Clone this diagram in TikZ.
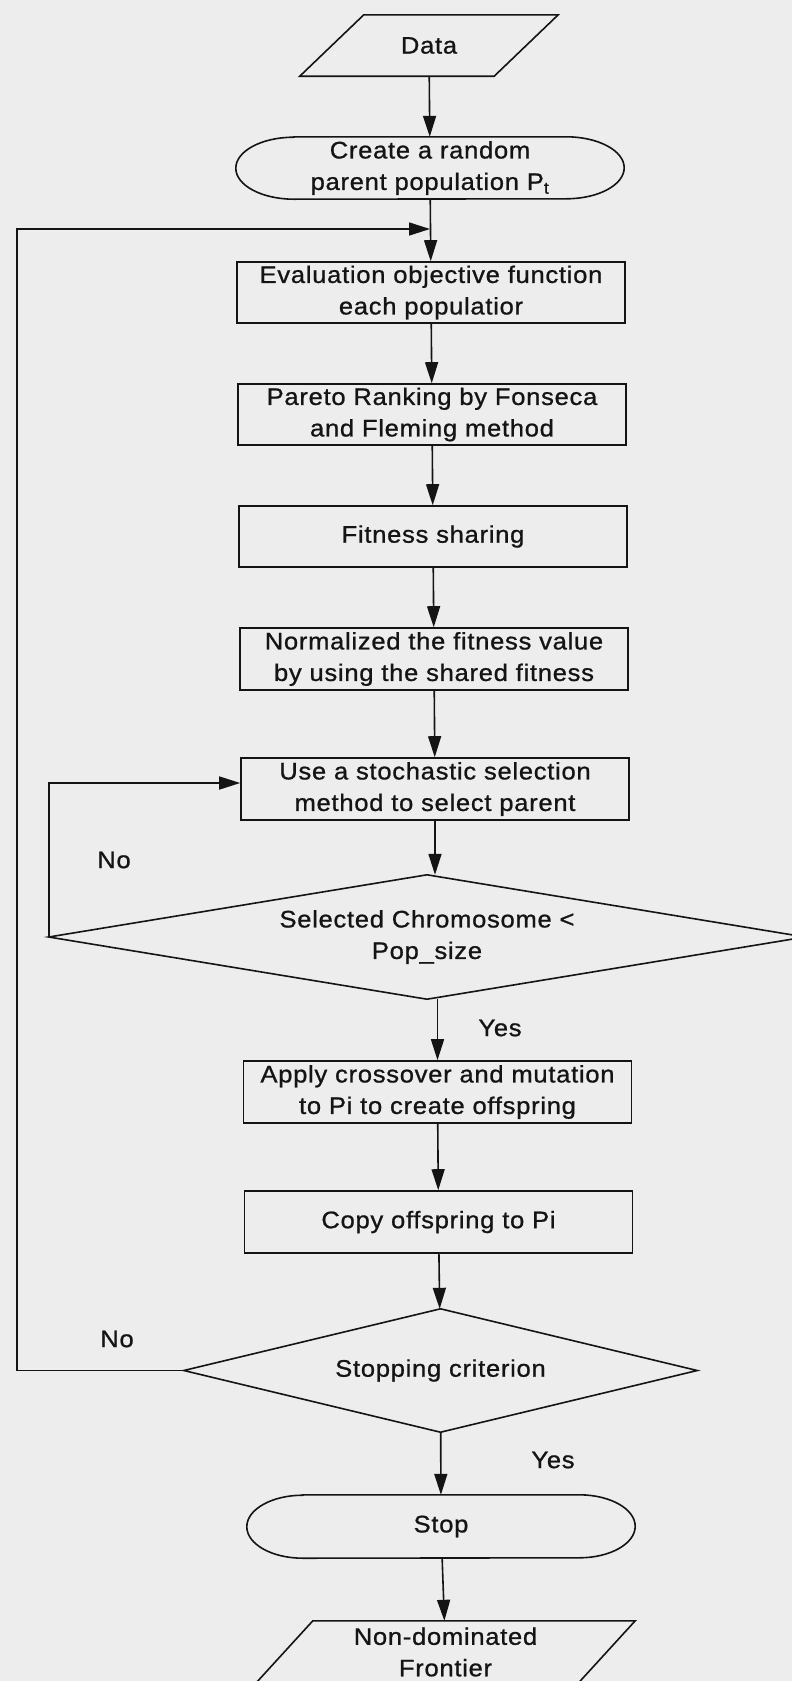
\documentclass[tikz,border=0pt]{standalone}
\usepackage{fontspec}
\setmainfont{Liberation Sans}[FakeStretch=1.07, LetterSpace=3, FakeBold=0.9]
\usetikzlibrary{arrows.meta}

\definecolor{paper}{RGB}{237,237,237}
\definecolor{ink}{RGB}{20,20,20}

\tikzset{
  flow/.style={draw=ink, line width=1.6pt},
  arr/.style={flow, -{Triangle[length=21pt,width=13pt]}},
  txt/.style={font=\fontsize{23.9pt}{31.5pt}\selectfont, text=ink, align=center, inner sep=0pt},
  procbox/.style={txt, flow, minimum width=388pt, minimum height=61pt},
  holder/.style={txt},
  lbl/.style={font=\fontsize{23.9pt}{28pt}\selectfont, text=ink, inner sep=0pt}
}

\begin{document}
\begin{tikzpicture}[x=1pt, y=-1pt]
  \useasboundingbox (0,0) rectangle (792,1681);
  \clip (0,0) rectangle (792,1681);
  \fill[paper] (0,0) rectangle (792,1681);

  % input parallelogram
  \node[holder, minimum width=258pt, minimum height=61pt] (data) at (429,45.5) {Data};
  \draw[flow] ([xshift=64pt]data.north west) -- (data.north east)
              -- ([xshift=-64pt]data.south east) -- (data.south west) -- cycle;

  % start terminal
  \node[holder, minimum width=388pt, minimum height=62pt] (create) at (430,168)
       {Create a random\\parent population P\textsubscript{t}};
  \draw[flow] ([xshift=58pt]create.north west) -- ([xshift=-58pt]create.north east)
              arc[start angle=90, end angle=-90, x radius=58pt, y radius=31pt]
              -- ([xshift=58pt]create.south west)
              arc[start angle=270, end angle=90, x radius=58pt, y radius=31pt] -- cycle;

  % process steps
  \node[procbox] (eval)    at (431,292.5) {Evaluation objective function\\each populatior};
  \node[procbox] (pareto)  at (432,414.5) {Pareto Ranking by Fonseca\\and Fleming method};
  \node[procbox] (fitness) at (433,536.5) {Fitness sharing};
  \node[procbox, minimum height=62pt] (normal) at (434,659) {Normalized the fitness value\\by using the shared fitness};
  \node[procbox, minimum height=62pt] (select) at (435,789) {Use a stochastic selection\\method to select parent};

  % first decision
  \node[holder, minimum width=756pt, minimum height=124pt] (chrom) at (427,937)
       {Selected Chromosome <\\Pop\_size};
  \draw[flow] (chrom.north) -- (chrom.east) -- (chrom.south) -- (chrom.west) -- cycle;

  \node[procbox, minimum height=62pt] (apply) at (437.5,1092) {Apply crossover and mutation\\to Pi to create offspring};
  \node[procbox, minimum height=62pt] (copy)  at (438.5,1222) {Copy offspring to Pi};

  % second decision
  \node[holder, minimum width=513pt, minimum height=123pt] (stopc) at (440.5,1370.5) {Stopping criterion};
  \draw[flow] (stopc.north) -- (stopc.east) -- (stopc.south) -- (stopc.west) -- cycle;

  % end terminal
  \node[holder, minimum width=388pt, minimum height=63pt] (stop) at (441,1526.5) {Stop};
  \draw[flow] ([xshift=56pt]stop.north west) -- ([xshift=-56pt]stop.north east)
              arc[start angle=90, end angle=-90, x radius=56pt, y radius=31.5pt]
              -- ([xshift=56pt]stop.south west)
              arc[start angle=270, end angle=90, x radius=56pt, y radius=31.5pt] -- cycle;

  % output parallelogram
  \node[holder, minimum width=379pt, minimum height=62pt] (nondom) at (445.5,1652)
       {Non-dominated\\Frontier};
  \draw[flow] ([xshift=57pt]nondom.north west) -- (nondom.north east)
              -- ([xshift=-57pt]nondom.south east) -- (nondom.south west) -- cycle;

  % labels
  \node[lbl] (no1)  at (114,860)  {No};
  \node[lbl] (yes1) at (500,1028) {Yes};
  \node[lbl] (no2)  at (117,1339) {No};
  \node[lbl] (yes2) at (553,1460) {Yes};

  % main flow
  \coordinate (joinrow) at (0,229);
  \coordinate (join) at (create.south |- joinrow);
  \coordinate (loopx) at (17,0);

  \draw[arr] (data) -- (create);
  \draw[arr] (create) -- (eval);
  \draw[arr] (eval) -- (pareto);
  \draw[arr] (pareto) -- (fitness);
  \draw[arr] (fitness) -- (normal);
  \draw[arr] (normal) -- (select);
  \draw[arr] (select.south) -- (select.south |- chrom.north);
  \draw[arr] (apply.north |- chrom.south) -- (apply.north);
  \draw[arr] (apply) -- (copy);
  \draw[arr] (copy) -- (stopc);
  \draw[arr] (stopc) -- (stop);
  \draw[arr] (stop) -- (nondom);

  % loops back
  \draw[arr] (chrom.west) |- ([yshift=6pt]select.west);
  \draw[arr] (stopc.west) -- (stopc.west -| loopx) |- (join);
\end{tikzpicture}
\end{document}
